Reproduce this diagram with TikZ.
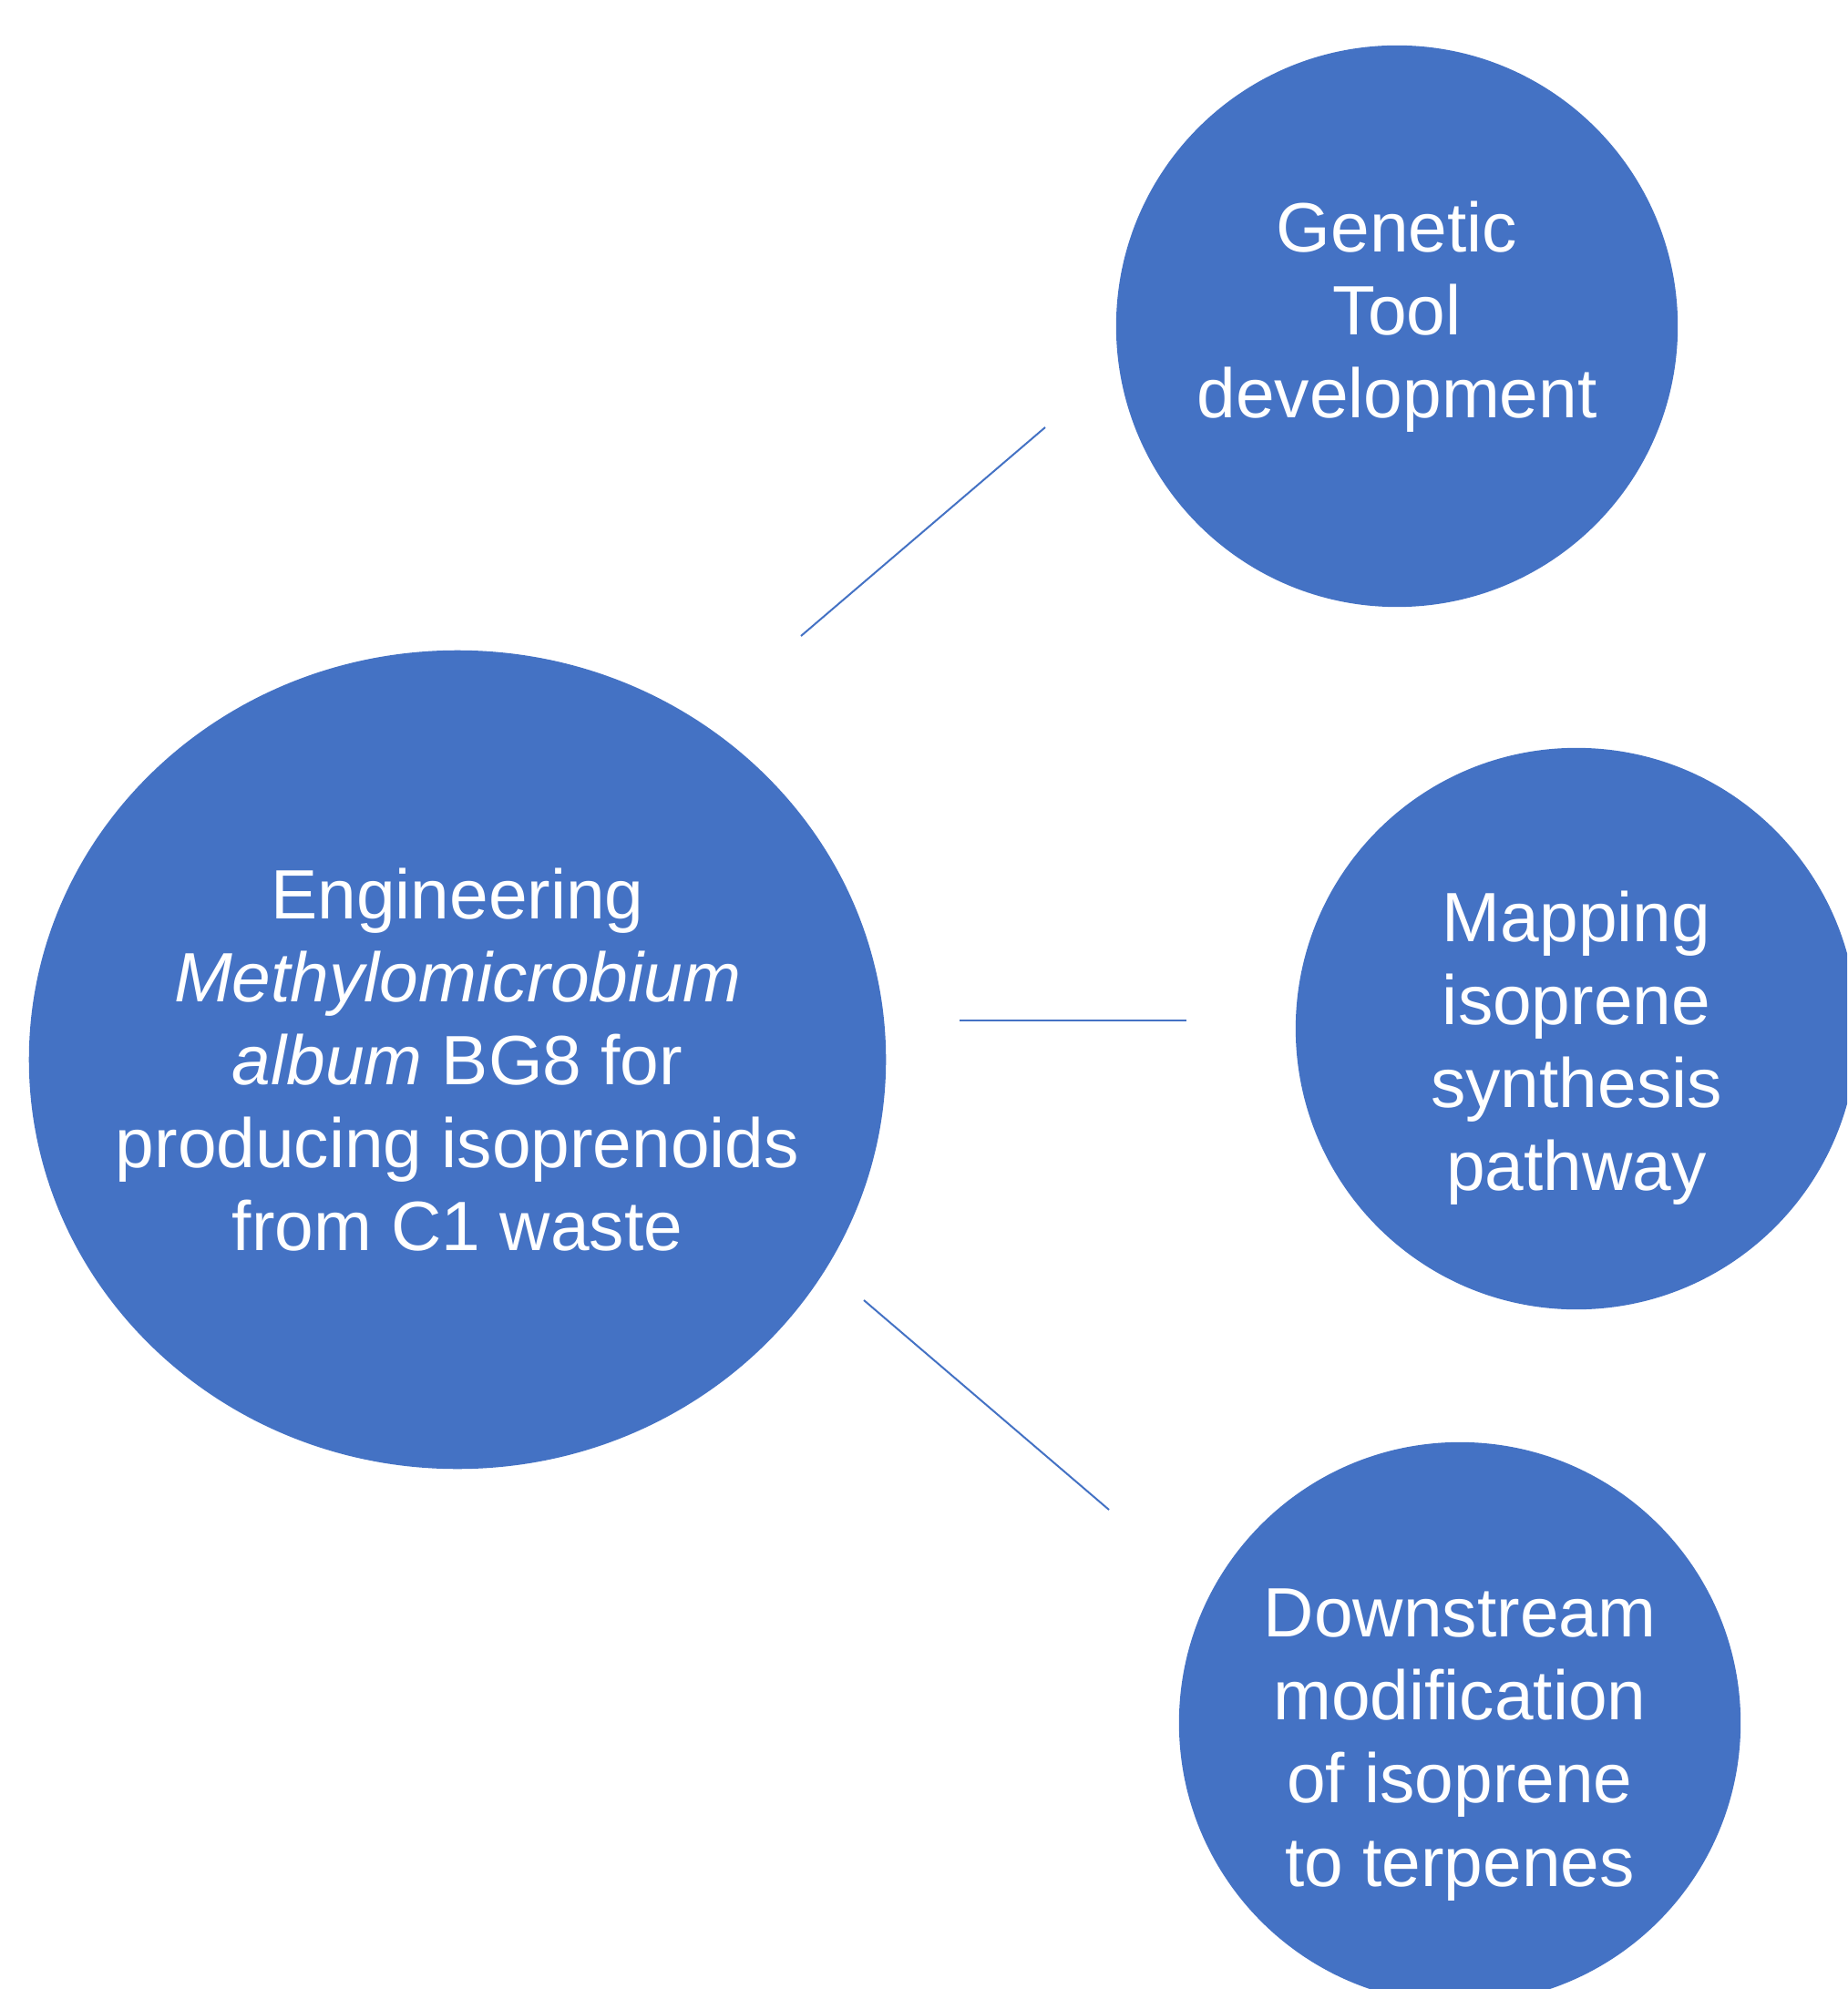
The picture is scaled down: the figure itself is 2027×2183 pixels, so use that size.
\documentclass[tikz,border=0pt]{standalone}
\usepackage{fontspec}
\setmainfont{Liberation Sans}
\usepackage{tikz}
\usetikzlibrary{positioning,shapes.geometric}
\definecolor{officeblue}{HTML}{4472C4}
\tikzset{%
  hub/.style     = { ellipse, fill = #1, draw = none, inner sep = 0pt,
                     minimum width = 9.40cm, minimum height = 8.98cm },
  bubble/.style  = { circle, fill = #1, draw = none, inner sep = 0pt,
                     minimum size = 6.16cm },
  caption/.style = { text = white, align = center, inner sep = 0pt,
                     font = \fontsize{21.8}{25.9}\selectfont },
  link/.style    = { draw = #1, line width = 0.02cm }
}

\begin{document}
\begin{tikzpicture}[x=0.01cm, y=-0.01cm]
  \useasboundingbox (0,0) rectangle (2027,2183);
  \clip (0,0) rectangle (2027,2183);
  \node(hub)[hub=officeblue] at (502,1163) {};
  \node(tool)[bubble=officeblue] at (1533,358) {};
  \node(path)[bubble=officeblue] at (1730,1129) {};
  \node(terp)[bubble=officeblue] at (1602,1891) {};
  \node(hub-text)[caption] at (hub)
    {Engineering\\ \textit{Methylomicrobium}\\ \textit{album} BG8 for\\ producing isoprenoids\\ from C1 waste};
  \node(tool-text)[caption, yshift = 0.10cm] at (tool) {Genetic\\ Tool\\ development};
  \node(path-text)[caption, yshift = -0.21cm] at (path) {Mapping\\ isoprene\\ synthesis\\ pathway};
  \node(terp-text)[caption, yshift = -0.24cm] at (terp) {Downstream\\ modification\\ of isoprene\\ to terpenes};
  % free ends of the links
  \coordinate (tool-a) at (879,698);
  \coordinate (tool-b) at (1147,469);
  \coordinate (path-a) at (1053,1120);
  \coordinate (path-b) at (1302,1120);
  \coordinate (terp-a) at (948,1427);
  \coordinate (terp-b) at (1217,1657);
  \draw[link=officeblue] (tool-a) -- (tool-b);
  \draw[link=officeblue] (path-a) -- (path-b);
  \draw[link=officeblue] (terp-a) -- (terp-b);
\end{tikzpicture}
\end{document}
